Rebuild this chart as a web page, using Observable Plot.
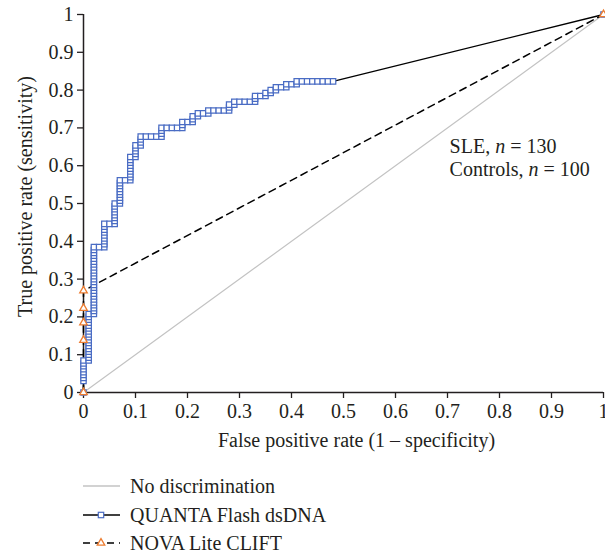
<!DOCTYPE html>
<html>
<head>
<meta charset="utf-8">
<script src="https://cdn.jsdelivr.net/npm/d3@7"></script>
<script src="https://cdn.jsdelivr.net/npm/@observablehq/plot@0.6"></script>
<style>
  html, body { margin: 0; padding: 0; background: white; overflow: hidden; }
  #chart { width: 605px; }
  svg { display: block; }
</style>
</head>
<body>
<div id="chart"></div>
<script>
// ---- Data ----
const nSLE = 130;        // positives
const nControls = 100;   // negatives

// QUANTA Flash dsDNA ROC points: false-positive counts / true-positive counts
const quantaFP = [
  0,0,0,0,0,0,0,0,0,
  1,1,1,1,1,1,1,1,1,1,1,1,1,1,1,1,1,
  2,2,2,2,2,2,2,2,2,2,2,2,2,2,2,2,2,2,2,2,2,2,2,2,
  3,
  4,4,4,4,4,4,4,4,4,
  5,
  6,6,6,6,6,6,6,6,
  7,7,7,7,7,7,7,7,7,
  8,
  9,9,9,9,9,9,9,9,9,
  10,10,10,10,10,
  11,11,11,11,
  12,13,14,
  15,15,15,15,
  16,17,18,
  19,19,19,
  20,
  21,21,21,
  22,22,
  23,
  24,24,
  25,26,27,
  28,28,28,
  29,29,
  30,31,32,
  33,33,33,
  34,
  35,35,
  36,36,
  37,37,
  38,
  39,39,
  40,
  41,41,
  42,43,44,45,46,47,48,
  100
];
const quantaTP = [
  0,4,5,6,7,8,9,10,11,
  11,12,13,14,15,16,17,18,19,20,21,22,23,24,25,26,27,
  27,28,29,30,31,32,33,34,35,36,37,38,39,40,41,42,43,44,45,46,47,48,49,50,
  50,
  50,51,52,53,54,55,56,57,58,
  58,
  58,59,60,61,62,63,64,65,
  65,66,67,68,69,70,71,72,73,
  73,
  73,74,75,76,77,78,79,80,81,
  81,82,83,84,85,
  85,86,87,88,
  88,88,88,
  88,89,90,91,
  91,91,91,
  91,92,93,
  93,
  93,94,95,
  95,96,
  96,
  96,97,
  97,97,97,
  97,98,99,
  99,100,
  100,100,100,
  100,101,102,
  102,
  102,103,
  103,104,
  104,105,
  105,
  105,106,
  106,
  106,107,
  107,107,107,107,107,107,107,
  130
];

// NOVA Lite CLIFT ROC points
const novaFP = [0, 0, 0, 0, 0, 100];
const novaTP = [0, 18, 24, 29, 35, 130];

// No discrimination line
const diagX = [0, 1];
const diagY = [0, 1];

const xTicks = [0, 0.1, 0.2, 0.3, 0.4, 0.5, 0.6, 0.7, 0.8, 0.9, 1];
const xTickLabels = ["0", "0.1", "0.2", "0.3", "0.4", "0.5", "0.6", "0.7", "0.8", "0.9", "1"];
const yTicks = [0, 0.1, 0.2, 0.3, 0.4, 0.5, 0.6, 0.7, 0.8, 0.9, 1];
const yTickLabels = ["0", "0.1", "0.2", "0.3", "0.4", "0.5", "0.6", "0.7", "0.8", "0.9", "1"];

const seriesNames = ["No discrimination", "QUANTA Flash dsDNA", "NOVA Lite CLIFT"];
const annotPrefix = ["SLE, ", "Controls, "];
const annotCounts = [String(nSLE), String(nControls)];

const xTitle = "False positive rate (1 \u2013 specificity)";
const yTitle = "True positive rate (sensitivity)";

// ---- Tables ----
const quanta = quantaFP.map((fp, i) => ({x: fp / nControls, y: quantaTP[i] / nSLE}));
const nova = novaFP.map((fp, i) => ({x: fp / nControls, y: novaTP[i] / nSLE}));
const diag = diagX.map((x, i) => ({x, y: diagY[i]}));

const BLUE = "#4a6cc4";
const ORANGE = "#ed7d31";
const GRAY = "#c3c3c3";
const INK = "#231f20";
const FONT = "'Liberation Serif', 'Times New Roman', serif";

const svg = Plot.plot({
  width: 605,
  height: 462,
  marginTop: 14,
  marginRight: 2,
  marginBottom: 70,
  marginLeft: 83,
  style: {fontFamily: FONT, fontSize: "20px", color: INK, background: "white", overflow: "hidden"},
  x: {domain: [0, 1]},
  y: {domain: [0, 1]},
  marks: [
    Plot.line(diag, {x: "x", y: "y", stroke: GRAY, strokeWidth: 1.2}),
    Plot.axisX({ticks: xTicks, tickFormat: d => xTickLabels[xTicks.indexOf(d)], tickSize: 6, tickPadding: 5, label: null, fontSize: 20, strokeWidth: 1.3, stroke: INK}),
    Plot.axisY({ticks: yTicks, tickFormat: d => yTickLabels[yTicks.indexOf(d)], tickSize: 6, tickPadding: 4, label: null, fontSize: 20, strokeWidth: 1.3, stroke: INK}),
    Plot.ruleY([0], {stroke: INK, strokeWidth: 1.5}),
    Plot.ruleX([0], {stroke: INK, strokeWidth: 1.5}),
    Plot.text([xTitle], {frameAnchor: "bottom", dx: 13, dy: 48, text: d => d, textAnchor: "middle", lineAnchor: "middle", fontSize: 20, fill: INK}),
    Plot.text([yTitle], {frameAnchor: "left", dx: -58, dy: -7, rotate: -90, text: d => d, textAnchor: "middle", lineAnchor: "middle", fontSize: 20, fill: INK}),
    Plot.line(nova, {x: "x", y: "y", stroke: "#000", strokeWidth: 1.5, strokeDasharray: "7,5"}),
    Plot.line(quanta, {x: "x", y: "y", stroke: "#000", strokeWidth: 1.4}),
    Plot.dot(quanta, {x: "x", y: "y", symbol: "square", r: 3.0, stroke: BLUE, strokeWidth: 1.25, fill: "white"}),
    Plot.dot(nova, {x: "x", y: "y", symbol: "triangle", r: 2.8, stroke: ORANGE, strokeWidth: 1.3, fill: "white"}),
    Plot.text(annotPrefix, {
      x: 0.704, y: (d, i) => 0.65 - i * 0.06,
      text: (d, i) => d + "n = " + annotCounts[i],
      textAnchor: "start", lineAnchor: "middle", fontSize: 20, fill: INK, className: "annot"
    })
  ]
});

// italic "n" in the annotation
d3.select(svg).selectAll("g.annot text").each(function(d, i) {
  const sel = d3.select(this);
  sel.text(null);
  sel.append("tspan").text(annotPrefix[i]);
  sel.append("tspan").attr("font-style", "italic").text("n");
  sel.append("tspan").text(" = " + annotCounts[i]);
});

document.getElementById("chart").appendChild(svg);

// ---- Legend below the plot ----
const leg = d3.create("svg").attr("width", 605).attr("height", 90)
  .style("font-family", FONT).style("font-size", "20px").style("background", "white");
const rowY = [24, 53, 81];
const x0 = 83, x1 = 120, xm = 101;
// No discrimination
leg.append("line").attr("x1", x0).attr("x2", x1).attr("y1", rowY[0]).attr("y2", rowY[0])
  .attr("stroke", GRAY).attr("stroke-width", 1.4);
// QUANTA
leg.append("line").attr("x1", x0).attr("x2", x1).attr("y1", rowY[1]).attr("y2", rowY[1])
  .attr("stroke", "#000").attr("stroke-width", 1.4);
leg.append("rect").attr("x", xm - 2.7).attr("y", rowY[1] - 2.7).attr("width", 5.4).attr("height", 5.4)
  .attr("fill", "white").attr("stroke", BLUE).attr("stroke-width", 1.2);
// NOVA
leg.append("line").attr("x1", x0).attr("x2", x1).attr("y1", rowY[2]).attr("y2", rowY[2])
  .attr("stroke", "#000").attr("stroke-width", 1.5).attr("stroke-dasharray", "7,5");
leg.append("path").attr("transform", `translate(${xm},${rowY[2]})`)
  .attr("d", d3.symbol(d3.symbolTriangle, Math.PI * 2.8 * 2.8)())
  .attr("fill", "white").attr("stroke", ORANGE).attr("stroke-width", 1.3);
seriesNames.forEach((name, i) => {
  leg.append("text").attr("x", 130).attr("y", rowY[i]).attr("dy", "0.35em")
    .attr("fill", INK).text(name);
});
document.getElementById("chart").appendChild(leg.node());
</script>
</body>
</html>
